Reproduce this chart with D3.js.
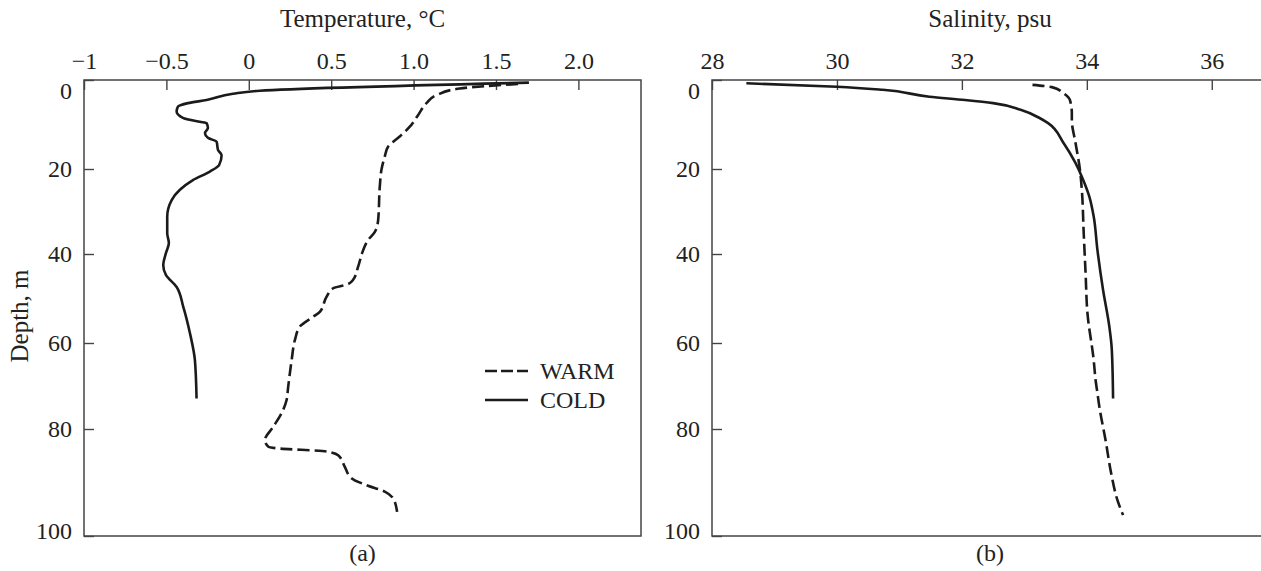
<!DOCTYPE html>
<html>
<head>
<meta charset="utf-8">
<script src="https://cdn.jsdelivr.net/npm/d3@7"></script>
<style>
  html, body { margin: 0; padding: 0; background: #fff; }
  svg text { font-family: "Liberation Serif", "Times New Roman", serif; fill: #222; }
</style>
</head>
<body>
<svg id="chart" width="1261" height="571"></svg>
<script>
// ---------- data ----------
const tempTicks = [-1, -0.5, 0, 0.5, 1.0, 1.5, 2.0];
const tempTickLabels = ["\u22121", "\u22120.5", "0", "0.5", "1.0", "1.5", "2.0"];
const salTicks = [28, 30, 32, 34, 36];
const salTickLabels = ["28", "30", "32", "34", "36"];
const depthTicks = [0, 20, 40, 60, 80, 100];
const depthTickLabels = ["0", "20", "40", "60", "80", "100"];

// COLD temperature profile
const coldTempDepth = [0.6, 2.4, 3.1, 4.5, 5.2, 6.0, 7.1, 8.5, 9.4, 9.7, 10.8, 11.9, 13.0, 13.9, 15.7, 16.9, 19.1, 20.6, 22.6, 24.9, 27.3, 31.2, 35.1, 37.4, 39.8, 42.5, 44.7, 47.4, 51.8, 57.8, 64.0, 72.9];
const coldTemp = [1.70, 0.067, -0.096, -0.256, -0.369, -0.43, -0.438, -0.40, -0.297, -0.256, -0.248, -0.266, -0.248, -0.195, -0.187, -0.165, -0.18, -0.236, -0.339, -0.418, -0.468, -0.495, -0.495, -0.485, -0.503, -0.519, -0.503, -0.438, -0.398, -0.357, -0.327, -0.317];

// WARM temperature profile
const warmTempDepth = [0.9, 1.9, 3.4, 5.2, 7.9, 10.5, 12.7, 15.0, 17.2, 20.2, 24.1, 32.0, 34.8, 36.7, 39.1, 42.9, 45.8, 46.9, 47.7, 49.6, 53.0, 54.1, 56.3, 59.3, 64.0, 70.2, 73.3, 76.4, 79.5, 82.1, 83.3, 83.6, 84.2, 84.9, 87.1, 89.2, 90.5, 91.7, 93.0, 95.5];
const warmTemp = [1.634, 1.28, 1.139, 1.078, 1.027, 0.977, 0.916, 0.845, 0.825, 0.805, 0.795, 0.785, 0.765, 0.724, 0.694, 0.663, 0.633, 0.593, 0.512, 0.472, 0.431, 0.391, 0.31, 0.28, 0.26, 0.239, 0.229, 0.198, 0.148, 0.098, 0.118, 0.169, 0.472, 0.542, 0.583, 0.623, 0.714, 0.825, 0.876, 0.90];

// COLD salinity profile
const coldSalDepth = [0.74, 1.5, 2.2, 3.75, 4.5, 5.2, 6.7, 8.6, 9.7, 14.2, 18.7, 21.8, 26.5, 31.2, 39.1, 48.1, 56.3, 61.6, 72.9];
const coldSal = [28.55, 30.0, 30.73, 31.48, 32.05, 32.5, 32.94, 33.25, 33.38, 33.63, 33.82, 33.92, 34.04, 34.11, 34.17, 34.26, 34.36, 34.40, 34.42];

// WARM salinity profile
const warmSalDepth = [1.1, 1.6, 3.0, 4.5, 7.5, 9.0, 14.2, 20.2, 24.9, 35.1, 44.3, 53.3, 64.0, 68.6, 71.7, 74.8, 82.1, 88.3, 93.3, 96.1];
const warmSal = [33.13, 33.44, 33.63, 33.73, 33.76, 33.76, 33.82, 33.89, 33.92, 33.95, 33.98, 34.01, 34.11, 34.14, 34.17, 34.20, 34.30, 34.39, 34.49, 34.58];

const seriesNames = ["WARM", "COLD"];

// ---------- layout ----------
const svg = d3.select("#chart");
const yTop = 80, yBottom = 536;
const ink = "#1b1b1b", frameCol = "#444";

const y = d3.scaleLinear().domain(depthTicks).range([80, 169, 254, 343, 429, 536]);

const xT = d3.scaleLinear().domain([-1, 2.38]).range([84, 641]);
const xS = d3.scaleLinear().domain([28, 36.9]).range([712, 1268]);

function panel(x, ticks, labels, title, letter, showYTitle) {
  const g = svg.append("g");
  const [x0, x1] = x.range();
  // frame
  g.append("rect").attr("x", x0).attr("y", yTop).attr("width", x1 - x0).attr("height", yBottom - yTop)
    .attr("fill", "none").attr("stroke", frameCol).attr("stroke-width", 1.5);

  // top axis
  const ax = d3.axisTop(x).tickValues(ticks).tickFormat((d, i) => labels[i])
    .tickSizeInner(-10).tickSizeOuter(0).tickPadding(11);
  const ga = g.append("g").attr("transform", `translate(0,${yTop})`).call(ax);
  ga.select(".domain").remove();
  ga.selectAll(".tick line").attr("stroke", frameCol).attr("stroke-width", 1.4);
  ga.selectAll(".tick text").attr("font-size", 24).attr("fill", "#222")
    .attr("font-family", "Liberation Serif, serif");

  // left axis
  const ay = d3.axisLeft(y).tickValues(depthTicks).tickFormat((d, i) => depthTickLabels[i])
    .tickSizeInner(-10).tickSizeOuter(0).tickPadding(12);
  const gy = g.append("g").attr("transform", `translate(${x0},0)`).call(ay);
  gy.select(".domain").remove();
  gy.selectAll(".tick line").attr("stroke", frameCol).attr("stroke-width", 1.4);
  gy.selectAll(".tick text").attr("font-size", 24).attr("fill", "#222")
    .attr("font-family", "Liberation Serif, serif")
    .attr("dy", d => d === 0 ? "0.75em" : (d === 100 ? "0.12em" : "0.32em"));

  // titles
  g.append("text").attr("x", (x0 + x1) / 2).attr("y", 27)
    .attr("text-anchor", "middle").attr("font-size", 25).text(title);
  g.append("text").attr("x", (x0 + x1) / 2).attr("y", 561)
    .attr("text-anchor", "middle").attr("font-size", 24).text(letter);
  if (showYTitle) {
    g.append("text").attr("transform", `translate(28,${(yTop + yBottom) / 2 + 8}) rotate(-90)`)
      .attr("text-anchor", "middle").attr("font-size", 25).text("Depth, m");
  }
  return g;
}

const gA = panel(xT, tempTicks, tempTickLabels, "Temperature, \u00B0C", "(a)", true);
const gB = panel(xS, salTicks, salTickLabels, "Salinity, psu", "(b)", false);

function profile(g, x, vals, depths, dashed) {
  const pts = vals.map((v, i) => [v, depths[i]]);
  const line = d3.line().x(d => x(d[0])).y(d => y(d[1])).curve(d3.curveMonotoneY);
  g.append("path").attr("d", line(pts)).attr("fill", "none")
    .attr("stroke", ink).attr("stroke-width", 2.6)
    .attr("stroke-linecap", "butt")
    .attr("stroke-dasharray", dashed ? "12,5" : null);
}

profile(gA, xT, coldTemp, coldTempDepth, false);
profile(gA, xT, warmTemp, warmTempDepth, true);
profile(gB, xS, coldSal, coldSalDepth, false);
profile(gB, xS, warmSal, warmSalDepth, true);

// legend
const leg = svg.append("g");
seriesNames.forEach((name, i) => {
  const ly = 371 + i * 29;
  leg.append("line").attr("x1", 485).attr("x2", 528).attr("y1", ly).attr("y2", ly)
    .attr("stroke", ink).attr("stroke-width", 2.6)
    .attr("stroke-dasharray", name === "WARM" ? "12,4" : null);
  leg.append("text").attr("x", 540).attr("y", ly).attr("dy", "0.34em")
    .attr("font-size", 24).text(name);
});
</script>
</body>
</html>
